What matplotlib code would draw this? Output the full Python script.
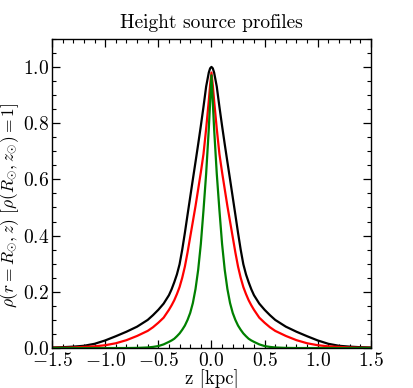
import numpy as np
import matplotlib
matplotlib.use("Agg")
import matplotlib.pyplot as plt
from matplotlib.ticker import MultipleLocator

plt.rcParams['font.family'] = 'serif'
plt.rcParams['font.serif'] = ['cmr10']
plt.rcParams['mathtext.fontset'] = 'cm'
plt.rcParams['axes.formatter.use_mathtext'] = True
plt.rcParams['axes.unicode_minus'] = True

z = [-1.5, -1.4, -1.3, -1.2, -1.1, -1.0, -0.9, -0.8, -0.7, -0.6,
     -0.55, -0.5, -0.45, -0.4,
     -0.375, -0.35, -0.325, -0.3, -0.275, -0.25, -0.225, -0.2, -0.175, -0.15,
     -0.125, -0.1, -0.075, -0.05, -0.025, -0.0125,
     0.0,
     0.0125, 0.025, 0.05, 0.075, 0.1, 0.125,
     0.15, 0.175, 0.2, 0.225, 0.25, 0.275, 0.3, 0.325, 0.35, 0.375,
     0.4, 0.45, 0.5, 0.55,
     0.6, 0.7, 0.8, 0.9, 1.0, 1.1, 1.2, 1.3, 1.4, 1.5]

rho_black = [0.002, 0.003, 0.005, 0.008, 0.015, 0.027, 0.042, 0.058, 0.076, 0.100,
             0.117, 0.136, 0.158, 0.188,
             0.209, 0.234, 0.262, 0.298, 0.350, 0.410, 0.474, 0.537, 0.600, 0.662,
             0.725, 0.790, 0.858, 0.930, 0.980, 0.995,
             1.000,
             0.995, 0.980, 0.930, 0.858, 0.790, 0.725,
             0.662, 0.600, 0.537, 0.474, 0.410, 0.350, 0.298, 0.262, 0.234, 0.209,
             0.188, 0.158, 0.136, 0.117,
             0.100, 0.076, 0.058, 0.042, 0.027, 0.015, 0.008, 0.005, 0.003, 0.002]

rho_red = [0.001, 0.001, 0.002, 0.004, 0.006, 0.010, 0.017, 0.028, 0.043, 0.061,
           0.074, 0.090, 0.108, 0.136,
           0.152, 0.170, 0.192, 0.217, 0.250, 0.290, 0.340, 0.395, 0.450, 0.505,
           0.565, 0.625, 0.690, 0.780, 0.880, 0.935,
           0.980,
           0.935, 0.880, 0.780, 0.690, 0.625, 0.565,
           0.505, 0.450, 0.395, 0.340, 0.290, 0.250, 0.217, 0.192, 0.170, 0.152,
           0.136, 0.108, 0.090, 0.074,
           0.061, 0.043, 0.028, 0.017, 0.010, 0.006, 0.004, 0.002, 0.001, 0.001]

rho_green = [0.0, 0.0, 0.0, 0.0, 0.0, 0.0, 0.0, 0.0, 0.0005, 0.002,
             0.004, 0.007, 0.013, 0.022,
             0.027, 0.033, 0.042, 0.052, 0.065, 0.080, 0.100, 0.125, 0.160, 0.210,
             0.278, 0.370, 0.490, 0.620, 0.780, 0.875,
             0.970,
             0.875, 0.780, 0.620, 0.490, 0.370, 0.278,
             0.210, 0.160, 0.125, 0.100, 0.080, 0.065, 0.052, 0.042, 0.033, 0.027,
             0.022, 0.013, 0.007, 0.004,
             0.002, 0.0005, 0.0, 0.0, 0.0, 0.0, 0.0, 0.0, 0.0, 0.0]

fig = plt.figure(figsize=(4.13, 3.88), dpi=100)
ax = fig.add_axes([0.126, 0.103, 0.772, 0.797])

ax.plot(z, rho_black, color='black', lw=1.6)
ax.plot(z, rho_red, color='red', lw=1.6)
ax.plot(z, rho_green, color='green', lw=1.6)

ax.set_xlim(-1.5, 1.5)
ax.set_ylim(0, 1.1)
ax.xaxis.set_major_locator(MultipleLocator(0.5))
ax.xaxis.set_minor_locator(MultipleLocator(0.1))
ax.yaxis.set_major_locator(MultipleLocator(0.2))
ax.yaxis.set_minor_locator(MultipleLocator(0.05))
ax.tick_params(which='both', direction='in', top=True, right=True, labelsize=14)
ax.tick_params(axis='y', which='both', pad=2)
ax.tick_params(axis='x', which='both', pad=3)
ax.tick_params(which='major', length=6, width=0.9)
ax.tick_params(which='minor', length=3, width=0.8)
for s in ax.spines.values():
    s.set_linewidth(1.0)

ax.set_title('Height source profiles', fontsize=14, pad=8)
ax.set_xlabel('z [kpc]', fontsize=13.5, labelpad=-1)
ax.set_ylabel(r'$\rho(r=R_{\odot},z)\ [\rho(R_{\odot},z_{\odot})=1]$', fontsize=12.5)
ax.yaxis.set_label_coords(-0.097, 0.46)

fig.savefig('out.png', dpi=100)
